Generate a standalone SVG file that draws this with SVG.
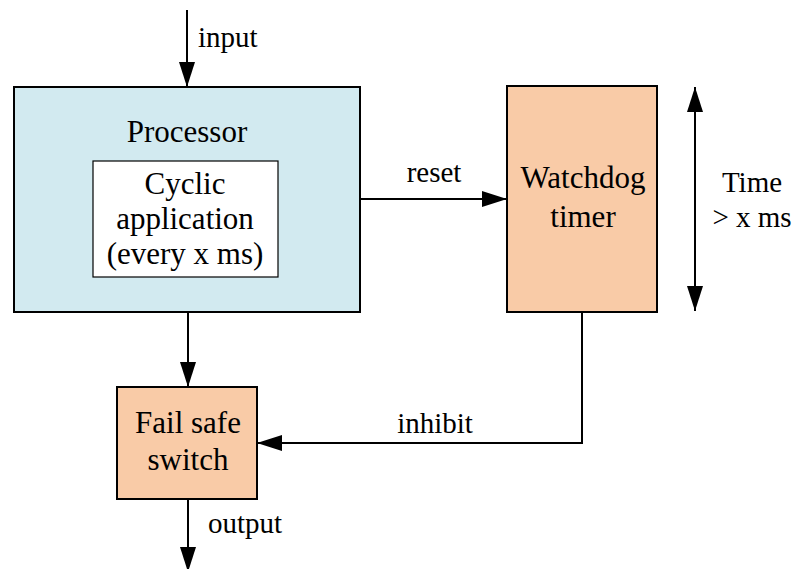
<svg xmlns="http://www.w3.org/2000/svg" width="792" height="569" viewBox="0 0 792 569">
  <style>
    .box { stroke: #000; stroke-width: 2; }
    .cpu { fill: #D2EAF0; }
    .hot { fill: #F9CBA7; }
    .app { fill: #FFFFFF; stroke: #000; stroke-width: 1.2; }
    .wire { fill: none; stroke: #000; stroke-width: 2; }
    .big { font-family: "Liberation Serif", serif; font-size: 31px; text-anchor: middle; fill: #000; }
    .lbl { font-family: "Liberation Serif", serif; font-size: 29px; fill: #000; }
  </style>
  <defs>
    <marker id="head" viewBox="0 0 25 16" refX="25" refY="8" markerWidth="25" markerHeight="16" markerUnits="userSpaceOnUse" orient="auto-start-reverse">
      <path d="M0,0 L25,8 L0,16 Z" fill="#000"/>
    </marker>
  </defs>

  <g id="connectors">
    <!-- input into processor -->
    <line class="wire" x1="187" y1="10" x2="187" y2="87" marker-end="url(#head)"/>
    <!-- reset pulse to watchdog -->
    <line class="wire" x1="360" y1="199" x2="507" y2="199" marker-end="url(#head)"/>
    <!-- processor to fail safe switch -->
    <line class="wire" x1="188" y1="312" x2="188" y2="387" marker-end="url(#head)"/>
    <!-- watchdog inhibit line -->
    <polyline class="wire" points="582,312 582,443 257,443" marker-end="url(#head)"/>
    <!-- output -->
    <line class="wire" x1="188" y1="499" x2="188" y2="572" marker-end="url(#head)"/>
    <!-- timeout span -->
    <line class="wire" x1="695" y1="87" x2="695" y2="311" marker-start="url(#head)" marker-end="url(#head)"/>
    <text class="lbl" x="198" y="47">input</text>
    <text class="lbl" x="434" y="182" text-anchor="middle">reset</text>
    <text class="lbl" x="435" y="433" text-anchor="middle">inhibit</text>
    <text class="lbl" x="208" y="533">output</text>
    <text class="lbl" x="752" y="192" text-anchor="middle">Time</text>
    <text class="lbl" x="752" y="227" text-anchor="middle">&gt; x ms</text>
  </g>

  <g id="processor">
    <rect class="box cpu" x="14" y="87" width="346" height="225"/>
    <text class="big" x="187" y="142">Processor</text>
  </g>

  <g id="cyclic-application">
    <rect class="app" x="93" y="161" width="185" height="116"/>
    <text class="big" x="185" y="194">Cyclic</text>
    <text class="big" x="185" y="229">application</text>
    <text class="big" x="185" y="264">(every x ms)</text>
  </g>

  <g id="watchdog-timer">
    <rect class="box hot" x="507" y="86" width="150" height="226"/>
    <text class="big" x="583" y="188">Watchdog</text>
    <text class="big" x="583" y="227">timer</text>
  </g>

  <g id="fail-safe-switch">
    <rect class="box hot" x="117" y="387" width="140" height="112"/>
    <text class="big" x="188" y="433">Fail safe</text>
    <text class="big" x="188" y="470">switch</text>
  </g>
</svg>
